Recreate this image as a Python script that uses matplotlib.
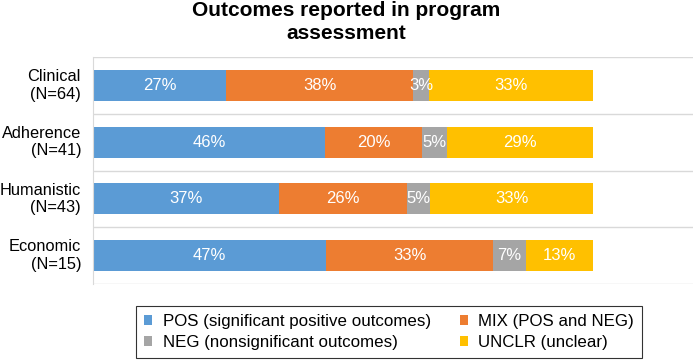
import matplotlib.pyplot as plt
import matplotlib.transforms as mtransforms
import numpy as np

plt.rcParams['font.family'] = ['Liberation Sans', 'DejaVu Sans']

# data: number of studies per outcome type
categories = ['Clinical\n(N=64)', 'Adherence\n(N=41)', 'Humanistic\n(N=43)', 'Economic\n(N=15)']
totals = [64, 41, 43, 15]
pos = [17, 19, 16, 7]
mix = [24, 8, 11, 5]
neg = [2, 2, 2, 1]
unclr = [21, 12, 14, 2]

series_names = ['POS (significant positive outcomes)', 'MIX (POS and NEG)',
                'NEG (nonsignificant outcomes)', 'UNCLR (unclear)']
colors = ['#5B9BD5', '#ED7D31', '#A5A5A5', '#FFC000']

fig = plt.figure(figsize=(6.93, 3.64), dpi=100)
ax = fig.add_axes([93 / 693, 1 - 284 / 364, 600 / 693, 227 / 364])

y = np.arange(len(categories))[::-1]
left = np.zeros(len(categories))
handles = []
for vals, c, name in zip([pos, mix, neg, unclr], colors, series_names):
  frac = np.array(vals) / np.array(totals)
  bars = ax.barh(y, frac, left=left, height=0.55, color=c, label=name)
  handles.append(bars)
  for yi, l, f in zip(y, left, frac):
    ax.text(l + f / 2, yi, '%d%%' % round(f * 100), ha='center', va='center',
            color='white', fontsize=12)
  left += frac

ax.set_xlim(0, 1.2)
ax.set_ylim(-0.5, 3.5)
ax.set_yticks([])
ax.set_xticks([])

# category labels, right aligned
trans = mtransforms.blended_transform_factory(ax.transAxes, ax.transData)
for yi, cat in zip(y, categories):
  ax.text(-12 / 600, yi, cat, transform=trans, ha='right', va='center',
          multialignment='right', fontsize=11.8, linespacing=1.2)

for s in ['top', 'right', 'bottom']:
  ax.spines[s].set_visible(False)
ax.spines['left'].set_color('#D9D9D9')
# separator lines between categories
for b in np.arange(-0.5, 4.0, 1.0):
  ax.axhline(b, color='#D9D9D9', lw=1, zorder=0)

fig.text(0.5, 1 - 22 / 364, 'Outcomes reported in program\nassessment', ha='center',
         va='center', fontsize=15, fontweight='bold', linespacing=1.3)

leg = fig.legend([handles[0], handles[2], handles[1], handles[3]],
                 [series_names[0], series_names[2], series_names[1], series_names[3]],
                 ncol=2, loc='center', bbox_to_anchor=(389 / 693, 1 - 332 / 364),
                 fontsize=12.2, frameon=True, fancybox=False, edgecolor='black',
                 handlelength=0.5, handleheight=0.5, handletextpad=0.6,
                 columnspacing=1.7, labelspacing=0.35, borderpad=0.45)
leg.get_frame().set_linewidth(0.8)

plt.savefig('out.png', dpi=100)
